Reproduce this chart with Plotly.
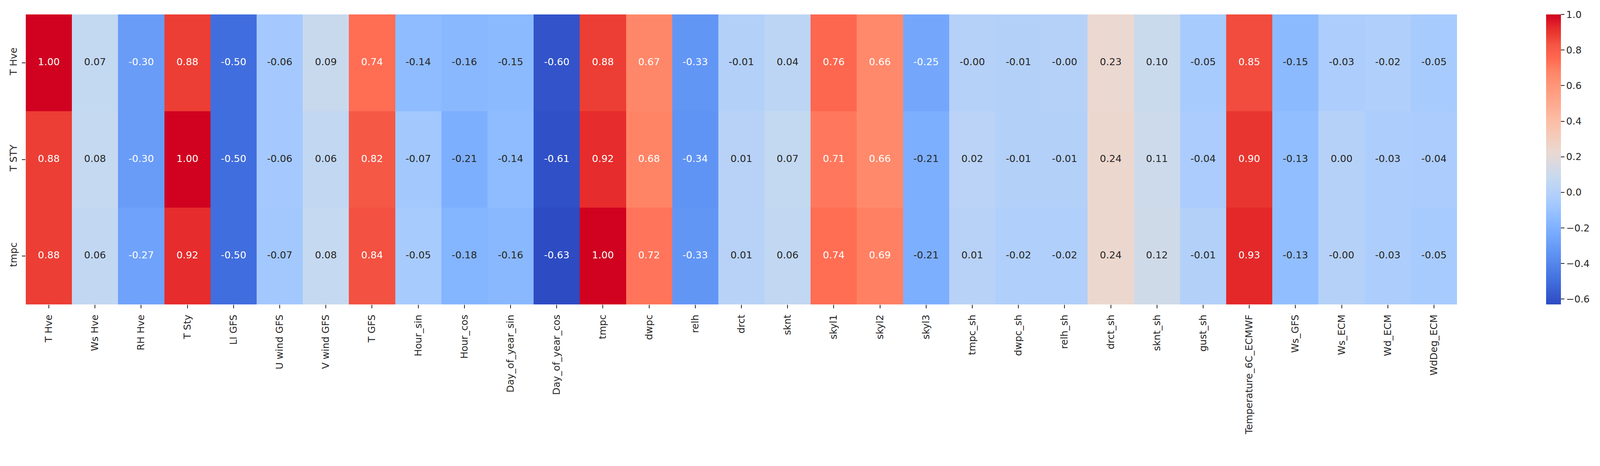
import plotly.graph_objects as go

# ---------------- data ----------------
columns = ["T Hve", "Ws Hve", "RH Hve", "T Sty", "LI GFS", "U wind GFS", "V wind GFS",
           "T GFS", "Hour_sin", "Hour_cos", "Day_of_year_sin", "Day_of_year_cos",
           "tmpc", "dwpc", "relh", "drct", "sknt", "skyl1", "skyl2", "skyl3",
           "tmpc_sh", "dwpc_sh", "relh_sh", "drct_sh", "sknt_sh", "gust_sh",
           "Temperature_6C_ECMWF", "Ws_GFS", "Ws_ECM", "Wd_ECM", "WdDeg_ECM"]
rows = ["T Hve", "T STY", "tmpc"]

row_t_hve = [1.00, 0.07, -0.30, 0.88, -0.50, -0.06, 0.09, 0.74, -0.14, -0.16, -0.15, -0.60,
             0.88, 0.67, -0.33, -0.01, 0.04, 0.76, 0.66, -0.25, -0.0, -0.01, -0.0, 0.23,
             0.10, -0.05, 0.85, -0.15, -0.03, -0.02, -0.05]
row_t_sty = [0.88, 0.08, -0.30, 1.00, -0.50, -0.06, 0.06, 0.82, -0.07, -0.21, -0.14, -0.61,
             0.92, 0.68, -0.34, 0.01, 0.07, 0.71, 0.66, -0.21, 0.02, -0.01, -0.01, 0.24,
             0.11, -0.04, 0.90, -0.13, 0.00, -0.03, -0.04]
row_tmpc = [0.88, 0.06, -0.27, 0.92, -0.50, -0.07, 0.08, 0.84, -0.05, -0.18, -0.16, -0.63,
            1.00, 0.72, -0.33, 0.01, 0.06, 0.74, 0.69, -0.21, 0.01, -0.02, -0.02, 0.24,
            0.12, -0.01, 0.93, -0.13, -0.0, -0.03, -0.05]

cbar_ticks = [-0.6, -0.4, -0.2, 0.0, 0.2, 0.4, 0.6, 0.8, 1.0]

# ---------------- styling ----------------
z = [row_t_hve, row_t_sty, row_tmpc]
zmin = min(min(r) for r in z)
zmax = max(max(r) for r in z)

cmap_pos = [0.0, 0.08, 0.184, 0.258, 0.30, 0.356, 0.387, 0.436, 0.454, 0.528,
            0.632, 0.798, 0.847, 0.896, 0.926, 0.957, 1.0]
cmap_rgb = [(45, 75, 195), (65, 110, 222), (98, 150, 245), (125, 175, 255),
            (142, 188, 255), (168, 203, 254), (182, 209, 248), (197, 217, 240),
            (205, 218, 235), (235, 216, 208), (252, 190, 165), (255, 135, 105),
            (255, 105, 80), (245, 85, 68), (236, 62, 52), (228, 40, 42), (208, 2, 32)]
colorscale = [[p, "rgb(%d,%d,%d)" % c] for p, c in zip(cmap_pos, cmap_rgb)]


def color_at(v):
    t = (v - zmin) / (zmax - zmin)
    t = max(0.0, min(1.0, t))
    for i in range(len(cmap_pos) - 1):
        if cmap_pos[i] <= t <= cmap_pos[i + 1]:
            f = (t - cmap_pos[i]) / (cmap_pos[i + 1] - cmap_pos[i])
            a, b = cmap_rgb[i], cmap_rgb[i + 1]
            return tuple(a[k] + f * (b[k] - a[k]) for k in range(3))
    return cmap_rgb[-1]


def luminance(rgb):
    out = []
    for c in rgb:
        c = c / 255.0
        out.append(c / 12.92 if c <= 0.03928 else ((c + 0.055) / 1.055) ** 2.4)
    return 0.2126 * out[0] + 0.7152 * out[1] + 0.0722 * out[2]


tx, ty, tt, tc = [], [], [], []
for rname, rvals in zip(rows, z):
    for cname, v in zip(columns, rvals):
        tx.append(cname)
        ty.append(rname)
        tt.append(f"{v:.2f}")
        tc.append("#ffffff" if luminance(color_at(v)) < 0.408 else "#262626")

# The photographed page shows the page slightly magnified (about 1.034x) with the
# default 8px body margin, so target positions are converted to page pixels.
K, OFF = 1.034, 8.0


def px(v):
    return v / K - OFF


FONT = "DejaVu Sans"
TICK_SIZE = 25.5 / K
ANNOT_SIZE = 26 / K
TICKLEN = 9.5 / K

W, H = 4236, 1194
PL, PR, PT, PB = px(68), px(3857), px(38), px(807)   # plot area in page pixels
CB_X, CB_W = px(4093), 39 / K

fig = go.Figure()
fig.add_trace(go.Heatmap(
    z=z, x=columns, y=rows,
    zmin=zmin, zmax=zmax,
    colorscale=colorscale,
    hoverinfo="skip",
    colorbar=dict(
        xref="container", x=CB_X / W, xanchor="left", xpad=0,
        yref="paper", y=0.5, yanchor="middle",
        len=1.0, lenmode="fraction", ypad=0,
        thickness=CB_W, thicknessmode="pixels",
        outlinewidth=0,
        ticks="outside", ticklen=TICKLEN, tickwidth=2, tickcolor="#262626",
        tickvals=cbar_ticks,
        ticktext=[("\u2212%.1f" % abs(t)) if t < 0 else ("%.1f" % t) for t in cbar_ticks],
        tickfont=dict(family=FONT, size=TICK_SIZE, color="#262626"),
    ),
))
fig.add_trace(go.Scatter(
    x=tx, y=ty, text=tt, mode="text",
    textfont=dict(family=FONT, size=ANNOT_SIZE, color=tc),
    hoverinfo="skip", showlegend=False,
))

fig.update_layout(
    width=W, height=H,
    margin=dict(l=PL, r=W - PR, t=PT, b=H - PB, pad=0, autoexpand=False),
    paper_bgcolor="white", plot_bgcolor="white",
    font=dict(family=FONT, size=TICK_SIZE, color="#262626"),
    showlegend=False,
)
fig.update_xaxes(
    type="category", range=[-0.5, len(columns) - 0.5], automargin=False,
    tickangle=-90, ticks="outside", ticklen=TICKLEN, tickwidth=2, tickcolor="#262626",
    ticklabelstandoff=6,
    tickfont=dict(family=FONT, size=TICK_SIZE, color="#262626"),
    showgrid=False, zeroline=False, showline=False,
)
fig.update_yaxes(
    type="category", range=[len(rows) - 0.5, -0.5], automargin=False,
    tickangle=-90, ticks="outside", ticklen=TICKLEN, tickwidth=2, tickcolor="#262626",
    ticklabelstandoff=3,
    tickfont=dict(family=FONT, size=TICK_SIZE, color="#262626"),
    showgrid=False, zeroline=False, showline=False,
)

fig.write_html("out.html")
